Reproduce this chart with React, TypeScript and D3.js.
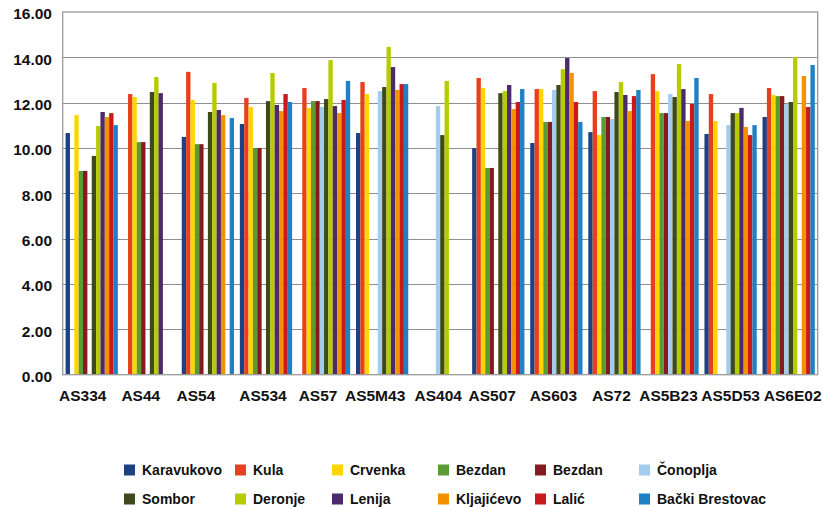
import React from "react";
import * as d3 from "d3";

const categories = ["AS334","AS44","AS54","AS534","AS57","AS5M43","AS404","AS507","AS603","AS72","AS5B23","AS5D53","AS6E02"];
const seriesNames = ["Karavukovo","Kula","Crvenka","Bezdan","Bezdan","Čonoplja","Sombor","Deronje","Lenija","Kljajićevo","Lalić","Bački Brestovac"];
const yTicks = [0,2,4,6,8,10,12,14,16];

const karavukovo = [10.66,null,10.49,11.06,null,10.66,null,10.0,10.22,10.70,null,10.62,11.37];
const kula =       [null,12.38,13.36,12.21,12.65,12.91,null,13.09,12.60,12.51,13.26,12.38,12.65];
const crvenka =    [11.45,12.25,12.12,11.81,11.77,12.38,null,12.65,12.60,10.57,12.51,11.19,12.34];
const bezdanA =    [8.99,10.26,10.17,10.0,12.07,null,null,9.12,11.15,11.37,11.54,null,12.29];
const bezdanB =    [8.99,10.26,10.17,10.0,12.07,null,null,9.12,11.15,11.37,11.54,null,12.29];
const conoplja =   [null,null,null,null,11.81,12.51,11.85,null,12.56,11.28,12.38,11.01,11.94];
const sombor =     [9.65,12.47,11.59,12.07,12.16,12.69,10.57,12.42,12.78,12.47,12.25,11.54,12.03];
const deronje =    [10.97,13.13,12.87,13.31,13.88,14.46,12.96,12.51,13.48,12.91,13.70,11.54,14.02];
const lenija =     [11.59,12.42,11.68,11.90,11.85,13.57,null,12.78,13.97,12.34,12.60,11.77,null];
const kljajicevo = [11.37,null,11.45,11.63,11.54,12.56,null,11.72,13.31,11.63,11.19,10.93,13.18];
const lalic =      [11.54,null,null,12.38,12.12,12.82,null,12.03,12.03,12.29,11.94,10.57,11.81];
const backi =      [11.01,null,11.32,12.03,12.96,12.82,null,12.60,11.15,12.56,13.09,11.01,13.66];

const seriesValues = [karavukovo,kula,crvenka,bezdanA,bezdanB,conoplja,sombor,deronje,lenija,kljajicevo,lalic,backi];

const colors = ["#1c4283","#e8401c","#ffd500","#5b9b33","#861a23","#a2cdee","#3e4a1c","#b6cc00","#4d2a6b","#f39200","#c8191d","#1f80c4"];

// small horizontal nudges of category labels (layout only)
const labelNudge = [-9,-9,-12,-3,-6,-7,-2,-6,-3,-3,-4,0,4];

const W = 822, H = 507;
const left = 62.7, right = 817.7, top = 12, bottom = 374.7;
const font = "'Liberation Sans', Arial, Helvetica, sans-serif";

export default function App() {
  const x = d3.scaleBand<number>().domain(d3.range(categories.length)).range([left, right]).paddingInner(0.1).paddingOuter(0.05);
  const xi = d3.scaleBand<number>().domain(d3.range(seriesNames.length)).range([0, x.bandwidth()]);
  const y = d3.scaleLinear().domain([0, 16]).range([bottom, top]);

  const legendCols = [124, 235, 332, 438, 535, 639];
  const legendRows = [470, 499];

  return (
    <svg width={W} height={H} style={{ position: "absolute", left: 0, top: 0, background: "#fff" }} fontFamily={font}>
      {yTicks.filter(t => t > 0 && t < 16).map(t => (
        <line key={t} x1={left} x2={right} y1={Math.round(y(t)) + 0.5} y2={Math.round(y(t)) + 0.5} stroke="#8f8f8f" strokeWidth={1} />
      ))}
      {seriesValues.map((vals, s) => vals.map((v, c) => v == null ? null : (
        <rect key={s + "-" + c} x={(x(c) as number) + (xi(s) as number)} width={xi.bandwidth()} y={y(v)} height={bottom - y(v)} fill={colors[s]} />
      )))}
      <rect x={left} y={top} width={right - left} height={bottom - top} fill="none" stroke="#9a9a9a" strokeWidth={1.3} />
      {yTicks.map(t => (
        <text key={t} x={52} y={y(t) + 2} dy="0.35em" textAnchor="end" fontSize={15.5} fontWeight="bold" fill="#111">{t.toFixed(2)}</text>
      ))}
      {categories.map((c, i) => (
        <text key={c} x={(x(i) as number) + x.bandwidth() / 2 + labelNudge[i]} y={401} textAnchor="middle" fontSize={15.5} fontWeight="bold" fill="#111">{c}</text>
      ))}
      {seriesNames.map((n, i) => {
        const cx = legendCols[i % 6];
        const cy = legendRows[Math.floor(i / 6)];
        return (
          <g key={i}>
            <rect x={cx} y={cy - 5.5} width={11} height={11} fill={colors[i]} />
            <text x={cx + 18} y={cy} dy="0.36em" fontSize={14} fontWeight="bold" fill="#111">{n}</text>
          </g>
        );
      })}
    </svg>
  );
}
